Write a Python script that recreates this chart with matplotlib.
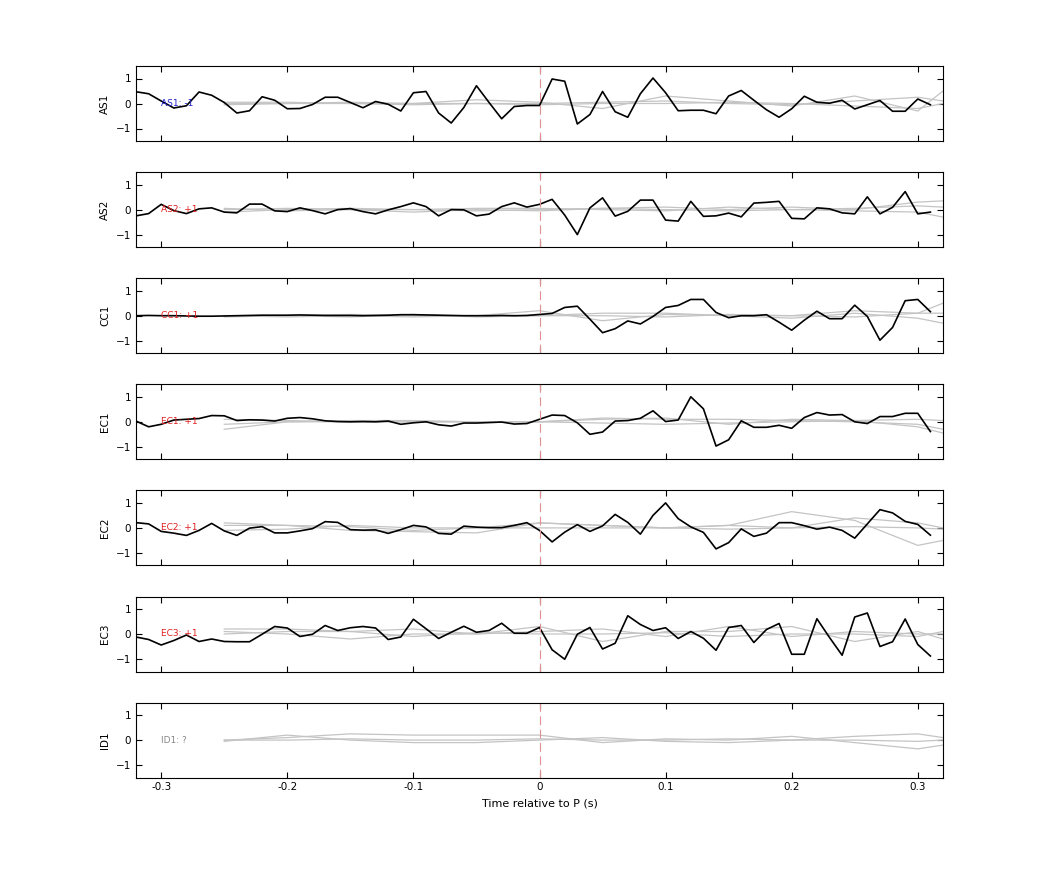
import matplotlib.pyplot as plt
import numpy as np

# black traces sampled every 0.01 s from -0.32 to 0.31
t = np.round(np.arange(-0.32, 0.315, 0.01), 3)

AS1 = [0.47, 0.39, 0.1, -0.18, -0.09, 0.46, 0.33, 0.04, -0.38, -0.29, 0.27, 0.13, -0.21, -0.2, -0.04, 0.25,
       0.25, 0.04, -0.17, 0.08, -0.03, -0.3, 0.43, 0.48, -0.38, -0.78, -0.16, 0.71, 0.04, -0.61, -0.12, -0.08,
       -0.08, 0.98, 0.89, -0.82, -0.44, 0.48, -0.33, -0.55, 0.39, 1.02, 0.43, -0.29, -0.27, -0.27, -0.41, 0.3,
       0.52, 0.13, -0.25, -0.55, -0.21, 0.29, 0.05, 0.01, 0.13, -0.22, -0.05, 0.12, -0.31, -0.31, 0.18, -0.05]
AS2 = [-0.25, -0.16, 0.21, -0.04, -0.16, 0.03, 0.07, -0.1, -0.13, 0.22, 0.22, -0.05, -0.08, 0.07, -0.04, -0.17,
       0.0, 0.04, -0.08, -0.17, -0.01, 0.12, 0.27, 0.12, -0.25, 0.0, -0.01, -0.25, -0.18, 0.12, 0.27, 0.1,
       0.21, 0.41, -0.22, -1.0, 0.07, 0.47, -0.26, -0.07, 0.38, 0.38, -0.42, -0.46, 0.33, -0.27, -0.25, -0.14,
       -0.29, 0.26, 0.29, 0.33, -0.35, -0.37, 0.07, 0.03, -0.13, -0.17, 0.51, -0.17, 0.09, 0.72, -0.17, -0.1]
CC1 = [0.0, 0.01, 0.0, 0.0, -0.01, -0.02, -0.02, -0.01, 0.0, 0.01, 0.02, 0.02, 0.02, 0.03, 0.02, 0.01,
       0.01, 0.01, 0.0, 0.01, 0.02, 0.04, 0.04, 0.03, 0.02, 0.01, 0.0, 0.0, 0.0, 0.01, 0.0, 0.01,
       0.05, 0.09, 0.33, 0.38, -0.14, -0.68, -0.52, -0.21, -0.33, -0.03, 0.33, 0.41, 0.65, 0.65, 0.13, -0.08,
       0.0, 0.0, 0.04, -0.26, -0.58, -0.18, 0.18, -0.12, -0.12, 0.42, -0.03, -0.98, -0.47, 0.6, 0.65, 0.16]
EC1 = [0.03, -0.2, -0.1, 0.07, 0.1, 0.13, 0.25, 0.24, 0.05, 0.08, 0.07, 0.03, 0.14, 0.17, 0.12, 0.04,
       0.01, 0.0, 0.01, 0.0, 0.03, -0.1, -0.04, 0.0, -0.12, -0.17, -0.05, -0.05, -0.03, -0.01, -0.09, -0.07,
       0.1, 0.27, 0.25, -0.04, -0.5, -0.41, 0.03, 0.05, 0.14, 0.44, 0.01, 0.07, 1.0, 0.52, -0.97, -0.72,
       0.04, -0.22, -0.22, -0.14, -0.26, 0.17, 0.37, 0.27, 0.29, 0.0, -0.07, 0.21, 0.21, 0.34, 0.34, -0.39]
EC2 = [0.21, 0.16, -0.14, -0.21, -0.3, -0.1, 0.18, -0.12, -0.3, -0.01, 0.05, -0.2, -0.2, -0.12, -0.03, 0.25,
       0.22, -0.07, -0.09, -0.08, -0.22, -0.07, 0.1, 0.04, -0.22, -0.25, 0.07, 0.03, 0.01, 0.01, 0.1, 0.21,
       -0.1, -0.56, -0.17, 0.13, -0.14, 0.08, 0.54, 0.22, -0.25, 0.5, 1.0, 0.37, 0.04, -0.18, -0.84, -0.59,
       -0.04, -0.34, -0.21, 0.21, 0.21, 0.09, -0.05, 0.03, -0.1, -0.41, 0.16, 0.73, 0.6, 0.26, 0.14, -0.29]
EC3 = [-0.12, -0.22, -0.44, -0.26, -0.04, -0.3, -0.2, -0.3, -0.31, -0.31, -0.01, 0.3, 0.24, -0.1, -0.01, 0.34,
       0.14, 0.25, 0.3, 0.24, -0.22, -0.12, 0.59, 0.21, -0.18, 0.07, 0.31, 0.07, 0.14, 0.43, 0.03, 0.03,
       0.26, -0.63, -1.01, -0.01, 0.26, -0.6, -0.37, 0.73, 0.38, 0.14, 0.25, -0.18, 0.1, -0.17, -0.65, 0.26,
       0.34, -0.34, 0.18, 0.42, -0.81, -0.81, 0.61, -0.14, -0.85, 0.68, 0.84, -0.5, -0.31, 0.6, -0.42, -0.88]

# grey traces, hand-read every 0.05 s
tg = [-0.25, -0.2, -0.15, -0.1, -0.05, 0.0, 0.05, 0.1, 0.15, 0.2, 0.25, 0.3, 0.32]
GREY = {
    "AS1": [[0, 0, 0, 0, 0.15, 0.05, -0.2, 0.3, 0.1, -0.1, 0.3, -0.3, 0.5],
            [-0.05, 0, 0.05, 0, 0, 0, 0.05, 0.1, 0, -0.05, 0.1, 0.25, 0.1],
            [0.05, 0.05, 0, -0.05, 0, -0.05, 0, 0, 0.05, 0, -0.1, -0.2, 0]],
    "AS2": [[0, 0.05, 0, 0, -0.05, 0, 0.05, 0.1, 0, 0.1, 0, 0.3, 0.35],
            [-0.1, 0, 0.05, 0, 0.05, 0.05, 0, -0.05, 0.1, 0, 0.05, 0.15, 0.1],
            [0.05, -0.05, 0, -0.1, 0, -0.05, 0.05, 0, -0.05, 0, -0.05, -0.1, -0.3]],
    "CC1": [[0, 0, 0.05, 0, 0, 0.2, -0.2, 0.05, 0, 0, 0.2, 0.1, 0.5],
            [-0.05, 0, -0.05, 0.05, -0.05, 0, 0.1, 0.1, 0, -0.1, 0.1, -0.1, -0.3],
            [0, -0.05, 0, -0.05, 0, 0, 0, -0.05, 0.05, 0, -0.05, 0.1, 0.1]],
    "EC1": [[-0.3, 0, 0, 0, 0, 0, 0.1, 0.15, -0.1, 0.1, 0.05, 0.1, 0.05],
            [-0.1, 0, 0.05, 0.05, 0, 0, 0.15, 0.1, 0.1, 0.05, 0, -0.1, -0.3],
            [0.1, 0.05, 0, 0, 0, 0, -0.05, -0.1, -0.05, 0, 0.05, -0.2, -0.45]],
    "EC2": [[0.2, 0.1, -0.1, -0.15, -0.2, 0.2, 0.1, 0, 0.1, 0.65, 0.3, -0.7, -0.5],
            [0.1, 0.1, 0.05, -0.1, 0, 0.2, 0.1, 0, 0.1, 0, 0.4, 0.2, 0.0],
            [-0.1, -0.05, 0.1, 0, 0, 0, 0, 0, -0.05, 0, 0.05, 0, -0.05]],
    "EC3": [[0.2, 0.2, 0.1, 0.2, 0, 0.3, -0.3, 0.1, 0.1, 0.3, -0.3, 0.1, -0.2],
            [0.1, 0, -0.2, 0, 0, 0.1, 0.2, -0.1, 0.3, -0.1, 0.1, 0, 0],
            [0, 0.1, 0.1, -0.1, 0.05, 0, 0, 0.05, -0.1, 0, 0, -0.1, 0.1]],
    "ID1": [[0, 0.1, 0.25, 0.2, 0.2, 0.2, -0.1, 0.05, 0, 0.15, -0.1, -0.35, -0.2],
            [-0.05, 0.2, 0, -0.1, -0.1, 0, 0.1, -0.05, -0.1, 0, 0.15, 0.25, 0.1],
            [0, 0, 0.05, 0, 0, 0.05, 0, 0, 0.05, 0, 0, -0.05, 0]],
}

stations = ["AS1", "AS2", "CC1", "EC1", "EC2", "EC3", "ID1"]
black = {"AS1": AS1, "AS2": AS2, "CC1": CC1, "EC1": EC1, "EC2": EC2, "EC3": EC3, "ID1": None}
labels = {"AS1": ("AS1: -1", "#2020d0"), "AS2": ("AS2: +1", "#e02020"), "CC1": ("CC1: +1", "#e02020"),
          "EC1": ("EC1: +1", "#e02020"), "EC2": ("EC2: +1", "#e02020"), "EC3": ("EC3: +1", "#e02020"),
          "ID1": ("ID1: ?", "#888888")}

fig = plt.figure(figsize=(10.42, 8.75), dpi=100)
L, W, H = 136 / 1042, 807 / 1042, 75 / 875
for i, s in enumerate(stations):
    top = 66 + i * 106.1
    ax = fig.add_axes([L, 1 - (top + 75) / 875, W, H])
    for g in GREY[s]:
        ax.plot(tg, g, color="#c4c4c4", lw=0.9)
    if black[s] is not None:
        ax.plot(t, black[s], color="black", lw=1.2)
    ax.axvline(0, color="#e09090", lw=0.8, ls=(0, (8, 4)))
    txt, col = labels[s]
    ax.text(-0.3, 0, txt, color=col, fontsize=6.5, va="center", ha="left")
    ax.set_xlim(-0.32, 0.32)
    ax.set_ylim(-1.5, 1.5)
    ax.set_yticks([-1, 0, 1])
    ax.set_xticks([-0.3, -0.2, -0.1, 0, 0.1, 0.2, 0.3])
    ax.tick_params(direction="in", labelsize=7.5, top=True, right=True, length=4)
    ax.set_ylabel(s, fontsize=7.5)
    if i < len(stations) - 1:
        ax.set_xticklabels([])
    else:
        ax.set_xticklabels(["-0.3", "-0.2", "-0.1", "0", "0.1", "0.2", "0.3"])
        ax.set_xlabel("Time relative to P (s)", fontsize=8)

fig.savefig("out.png", dpi=100)
